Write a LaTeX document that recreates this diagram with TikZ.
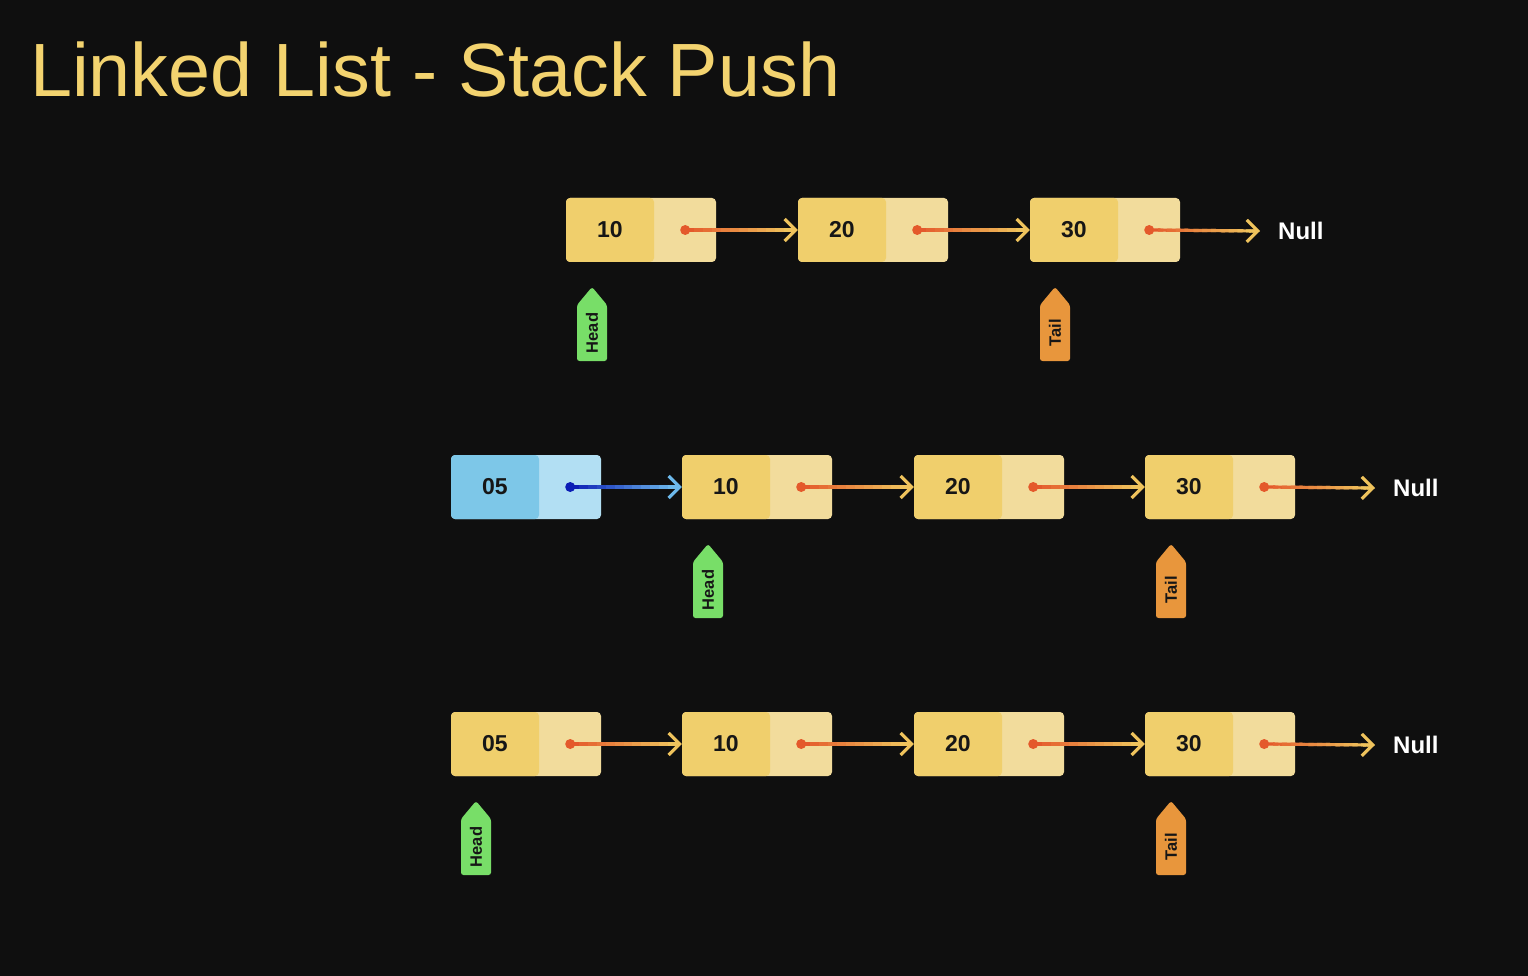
\documentclass[tikz,border=0pt]{standalone}
\usepackage{fontspec}
\setmainfont{Liberation Sans}
\newfontfamily\titlefont{Liberation Sans}
\usetikzlibrary{arrows.meta,calc}
\definecolor{bgc}{HTML}{0F0F0F}
\definecolor{ttl}{HTML}{F3D36F}
\definecolor{ydark}{HTML}{F0CF6C}
\definecolor{ylight}{HTML}{F2DC9C}
\definecolor{bdark}{HTML}{7DC7E8}
\definecolor{blight}{HTML}{B2DFF3}
\definecolor{dotor}{HTML}{E4592B}
\definecolor{tipy}{HTML}{EFC35C}
\definecolor{dotbl}{HTML}{0B1DB5}
\definecolor{tipbl}{HTML}{6DB9EC}
\definecolor{hgreen}{HTML}{78DE68}
\definecolor{torange}{HTML}{E8963C}
\definecolor{txt}{HTML}{161616}

\newcommand\mkbox[5]{%
  \node[#2] (#1) at (#3,#4) {};
  \node[num] (#1n) at ([xshift=44pt]#1.west) {#5};
  \coordinate (#1d) at ([xshift=-31pt]#1.east);}

\newcommand\gradlink[4]{%
  \coordinate (glA) at (#1);
  \coordinate (glB) at ($(#2)!5pt!(#1)$);
  \foreach \k in {0,...,11}{%
    \pgfmathsetmacro\ka{\k/12}%
    \pgfmathsetmacro\kb{min(1,(\k+1.6)/12)}%
    \pgfmathtruncatemacro\pc{100-100*\k/11}%
    \draw[line width=3.2pt, color=#3!\pc!#4] ($(glA)!\ka!(glB)$) -- ($(glA)!\kb!(glB)$);}
  \draw[line width=3.2pt, color=#4, -{Straight Barb[length=11pt,width=22pt,line width=3.2pt]}] ($(#2)!8pt!(#1)$) -- (#2);}

\newcommand\ptrtag[5]{%
  \coordinate (#1) at (#2,#3);
  \fill[#4, rounded corners=2.5pt] (#1) -- ++(15,18) -- ++(0,56) -- ++(-30,0) -- ++(0,-56) -- cycle;
  \node[tagtext, rotate=90] (#1t) at ($(#1)+(0,46)$) {#5};}

\begin{document}
\begin{tikzpicture}[x=1pt,y=-1pt,
  basebox/.style={rectangle, rounded corners=4pt, minimum width=150pt, minimum height=64pt, inner sep=0pt},
  ybox/.style={basebox, fill=ylight, path picture={\fill[ydark] (path picture bounding box.north west) rectangle ([xshift=88pt]path picture bounding box.south west);}},
  bbox/.style={basebox, fill=blight, path picture={\fill[bdark] (path picture bounding box.north west) rectangle ([xshift=88pt]path picture bounding box.south west);}},
  num/.style={inner sep=0pt, text=txt, font=\bfseries\fontsize{23}{23}\selectfont},
  nulltext/.style={inner sep=0pt, text=white, font=\bfseries\fontsize{24}{24}\selectfont, anchor=west},
  tagtext/.style={inner sep=0pt, text=txt, font=\bfseries\fontsize{16.5}{16.5}\selectfont}]
\fill[bgc] (0,0) rectangle (1528,976);
\node[anchor=base west, inner sep=0pt, text=ttl, font=\titlefont\fontsize{75.5}{80}\selectfont] (title) at (30,97) {Linked List - Stack Push};

% Row 1
\mkbox{ra}{ybox}{641}{230}{10}
\mkbox{rb}{ybox}{873}{230}{20}
\mkbox{rc}{ybox}{1105}{230}{30}
\node[nulltext] (rnull) at (1278,231) {Null};
\coordinate (rnullend) at ([xshift=-18pt]rnull.west);
\gradlink{rad}{rb.west}{dotor}{tipy}
\gradlink{rbd}{rc.west}{dotor}{tipy}
\gradlink{rcd}{rnullend}{dotor}{tipy}
\foreach \d in {rad,rbd,rcd} \fill[dotor] (\d) circle (5pt);
\ptrtag{rhead}{592}{287}{hgreen}{Head}
\ptrtag{rtail}{1055}{287}{torange}{Tail}

% Row 2
\mkbox{sa}{bbox}{526}{487}{05}
\mkbox{sb}{ybox}{757}{487}{10}
\mkbox{sc}{ybox}{989}{487}{20}
\mkbox{sd}{ybox}{1220}{487}{30}
\node[nulltext] (snull) at (1393,488) {Null};
\coordinate (snullend) at ([xshift=-18pt]snull.west);
\gradlink{sad}{sb.west}{dotbl}{tipbl}
\gradlink{sbd}{sc.west}{dotor}{tipy}
\gradlink{scd}{sd.west}{dotor}{tipy}
\gradlink{sdd}{snullend}{dotor}{tipy}
\fill[dotbl] (sad) circle (5pt);
\foreach \d in {sbd,scd,sdd} \fill[dotor] (\d) circle (5pt);
\ptrtag{shead}{708}{544}{hgreen}{Head}
\ptrtag{stail}{1171}{544}{torange}{Tail}

% Row 3
\mkbox{ta}{ybox}{526}{744}{05}
\mkbox{tb}{ybox}{757}{744}{10}
\mkbox{tc}{ybox}{989}{744}{20}
\mkbox{td}{ybox}{1220}{744}{30}
\node[nulltext] (tnull) at (1393,745) {Null};
\coordinate (tnullend) at ([xshift=-18pt]tnull.west);
\gradlink{tad}{tb.west}{dotor}{tipy}
\gradlink{tbd}{tc.west}{dotor}{tipy}
\gradlink{tcd}{td.west}{dotor}{tipy}
\gradlink{tdd}{tnullend}{dotor}{tipy}
\foreach \d in {tad,tbd,tcd,tdd} \fill[dotor] (\d) circle (5pt);
\ptrtag{thead}{476}{801}{hgreen}{Head}
\ptrtag{ttail}{1171}{801}{torange}{Tail}
\end{tikzpicture}
\end{document}
